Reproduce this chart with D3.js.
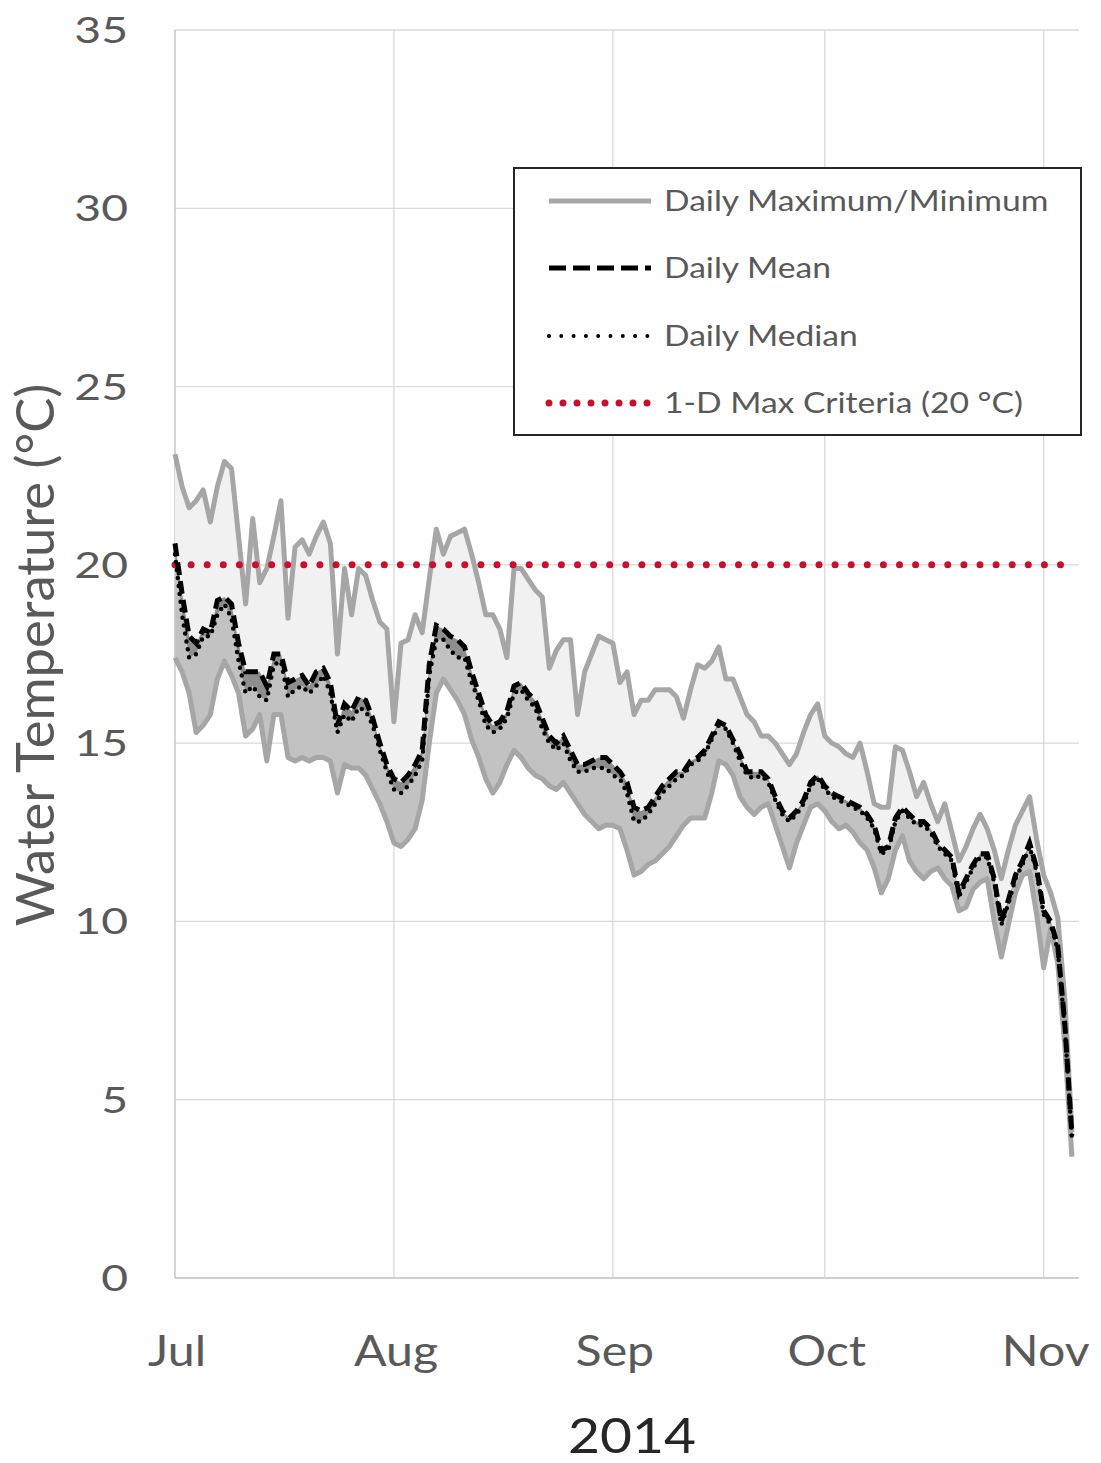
<!DOCTYPE html>
<html>
<head>
<meta charset="utf-8">
<script src="https://cdn.jsdelivr.net/npm/d3@7"></script>
<style>
  body { margin: 0; background: #fff; }
  svg { display: block; }
  text { font-family: Lato, "Open Sans", sans-serif; }
</style>
</head>
<body>
<svg id="chart"></svg>
<script>
// daily series, 1 Jul 2014 onwards (one value per day)
const startDate = new Date(2014, 6, 1);

const dailyMax = [
  23.1, 22.2, 21.6, 21.8, 22.1, 21.2, 22.2, 22.9, 22.7, 20.8,
  18.9, 21.3, 19.5, 19.9, 20.8, 21.8, 18.5, 20.5, 20.7, 20.3,
  20.8, 21.2, 20.6, 17.5, 19.9, 18.6, 19.9, 19.7, 19.0, 18.4,
  18.2, 15.6, 17.8, 17.9, 18.6, 18.1, 19.6, 21.0, 20.3, 20.8,
  20.9, 21.0, 20.3, 19.5, 18.6, 18.6, 18.2, 17.4, 19.9, 19.9,
  19.6, 19.3, 19.1, 17.1, 17.6, 17.9, 17.9, 15.8, 17.0, 17.5,
  18.0, 17.9, 17.8, 16.7, 17.0, 15.8, 16.2, 16.2, 16.5, 16.5,
  16.5, 16.3, 15.7, 16.5, 17.2, 17.1, 17.3, 17.7, 16.8, 16.8,
  16.3, 15.8, 15.6, 15.2, 15.2, 15.0, 14.7, 14.4, 14.7, 15.3,
  15.8, 16.1, 15.2, 15.0, 14.9, 14.7, 14.6, 15.0, 14.2, 13.3,
  13.2, 13.2, 14.9, 14.8, 14.2, 13.5, 13.9, 13.3, 12.8, 13.3,
  12.5, 11.7, 12.1, 12.6, 13.0, 12.6, 12.0, 11.2, 12.0, 12.7,
  13.1, 13.5, 12.3, 11.3, 10.8, 10.1, 7.8, 4.1
];

const dailyMin = [
  17.4, 17.0, 16.4, 15.3, 15.5, 15.8, 16.8, 17.3, 16.9, 16.4,
  15.2, 15.4, 15.8, 14.5, 15.8, 15.8, 14.6, 14.5, 14.6, 14.5,
  14.6, 14.6, 14.5, 13.6, 14.4, 14.3, 14.3, 14.1, 13.7, 13.3,
  12.8, 12.2, 12.1, 12.3, 12.6, 13.4, 15.0, 16.4, 16.8, 16.5,
  16.2, 15.8, 15.1, 14.6, 14.0, 13.6, 13.9, 14.4, 14.8, 14.6,
  14.3, 14.1, 14.0, 13.8, 13.7, 13.9, 13.6, 13.3, 13.0, 12.8,
  12.6, 12.7, 12.7, 12.6, 12.0, 11.3, 11.4, 11.6, 11.7, 11.9,
  12.1, 12.4, 12.7, 12.9, 12.9, 12.9, 13.6, 14.5, 14.4, 14.1,
  13.5, 13.2, 13.0, 13.2, 13.3, 12.7, 12.1, 11.5, 12.2, 12.7,
  13.2, 13.3, 13.1, 12.8, 12.6, 12.7, 12.5, 12.2, 12.0, 11.5,
  10.8, 11.2, 12.0, 12.4, 11.7, 11.4, 11.2, 11.4, 11.5, 11.2,
  11.0, 10.3, 10.4, 10.9, 11.1, 11.2, 10.0, 9.0, 9.9, 10.8,
  11.3, 11.4, 10.2, 8.7, 9.8, 8.8, 6.5, 3.4
];

const dailyMean = [
  20.6, 19.2, 18.0, 17.8, 18.2, 18.1, 19.0, 19.1, 18.9, 17.8,
  17.0, 17.0, 17.0, 16.6, 17.5, 17.5, 16.7, 16.8, 16.9, 16.6,
  17.0, 17.1, 16.7, 15.5, 16.1, 15.9, 16.3, 16.2, 15.7, 15.0,
  14.4, 14.0, 13.9, 14.1, 14.4, 14.8, 17.2, 18.3, 18.2, 18.0,
  17.9, 17.7, 17.0, 16.4, 15.8, 15.5, 15.6, 15.9, 16.6, 16.7,
  16.4, 16.2, 15.7, 15.2, 15.0, 15.2, 14.8, 14.4, 14.4, 14.5,
  14.6, 14.6, 14.4, 14.2, 13.9, 13.2, 13.1, 13.2, 13.5, 13.8,
  14.0, 14.2, 14.2, 14.5, 14.6, 14.8, 15.2, 15.6, 15.5, 15.1,
  14.7, 14.2, 14.2, 14.2, 14.0, 13.5, 13.1, 12.9, 13.1, 13.4,
  13.9, 14.1, 13.8, 13.6, 13.5, 13.4, 13.3, 13.2, 13.0, 12.7,
  12.0, 12.1, 12.9, 13.2, 13.0, 12.8, 12.8, 12.6, 12.2, 12.0,
  11.8, 10.8, 11.2, 11.6, 11.9, 11.9, 11.2, 10.0, 10.6, 11.3,
  11.7, 12.2, 11.5, 10.3, 10.0, 9.3, 7.1, 4.0
];

const dailyMedian = [
  20.3, 18.6, 17.4, 17.5, 18.0, 18.0, 18.6, 18.9, 18.5, 17.3,
  16.4, 16.6, 16.3, 16.2, 17.2, 17.3, 16.3, 16.5, 16.6, 16.4,
  16.6, 16.9, 16.4, 15.3, 15.8, 15.6, 16.0, 15.9, 15.5, 14.8,
  14.2, 13.7, 13.6, 13.8, 14.1, 14.5, 16.9, 17.9, 17.9, 17.6,
  17.4, 17.4, 16.7, 16.2, 15.5, 15.3, 15.4, 15.7, 16.4, 16.5,
  16.2, 16.0, 15.4, 15.0, 14.8, 15.0, 14.5, 14.2, 14.2, 14.3,
  14.3, 14.3, 14.1, 14.0, 13.6, 12.8, 12.8, 13.0, 13.3, 13.6,
  13.8, 14.0, 14.1, 14.4, 14.5, 14.7, 15.1, 15.5, 15.4, 15.0,
  14.5, 14.1, 14.0, 14.1, 13.9, 13.4, 13.0, 12.8, 13.0, 13.3,
  13.8, 14.0, 13.7, 13.5, 13.4, 13.3, 13.2, 13.1, 12.9, 12.6,
  11.9, 12.0, 12.8, 13.1, 12.9, 12.7, 12.7, 12.5, 12.1, 11.9,
  11.7, 10.7, 11.1, 11.5, 11.8, 11.8, 11.1, 9.9, 10.5, 11.2,
  11.6, 12.1, 11.4, 10.2, 9.9, 9.2, 7.0, 3.9
];

const criterion = 20;
const yTicks = [0, 5, 10, 15, 20, 25, 30, 35];
const monthTicks = ['2014-07-01', '2014-08-01', '2014-09-01', '2014-10-01', '2014-11-01'];
const legendLabels = ['Daily Maximum/Minimum', 'Daily Mean', 'Daily Median', '1-D Max Criteria (20 °C)'];

const width = 1101;
const height = 1463;
const plot = { left: 175, right: 1079, top: 30, bottom: 1278 };

const svg = d3.select('#chart')
  .attr('width', width)
  .attr('height', height);

const parse = d3.timeParse('%Y-%m-%d');

const rows = dailyMax.map((d, i) => ({
  date: d3.timeDay.offset(startDate, i),
  max: d,
  min: dailyMin[i],
  mean: dailyMean[i],
  median: dailyMedian[i],
}));

const x = d3.scaleTime()
  .domain([startDate, new Date(2014, 10, 6)])
  .range([plot.left, plot.right]);

const y = d3.scaleLinear()
  .domain([0, 35])
  .range([plot.bottom, plot.top]);

// gridlines
const grid = svg.append('g');
grid.selectAll('line.h')
  .data(yTicks)
  .join('line')
  .attr('class', 'h')
  .attr('x1', plot.left)
  .attr('x2', plot.right)
  .attr('y1', (d) => y(d))
  .attr('y2', (d) => y(d))
  .attr('stroke', (d) => (d === 0 ? '#bfbfbf' : '#d9d9d9'))
  .attr('stroke-width', 1.3);

grid.selectAll('line.v')
  .data(monthTicks.map(parse))
  .join('line')
  .attr('class', 'v')
  .attr('x1', (d) => x(d))
  .attr('x2', (d) => x(d))
  .attr('y1', plot.top)
  .attr('y2', plot.bottom)
  .attr('stroke', (d, i) => (i === 0 ? '#bfbfbf' : '#d9d9d9'))
  .attr('stroke-width', 1.3);

// bands
const band = (lo, hi) => d3.area()
  .x((d) => x(d.date))
  .y0((d) => y(d[lo]))
  .y1((d) => y(d[hi]));

svg.append('path').datum(rows).attr('d', band('mean', 'max')).attr('fill', '#f1f1f1');
svg.append('path').datum(rows).attr('d', band('min', 'median')).attr('fill', '#c2c2c2');
svg.append('path').datum(rows).attr('d', band('median', 'mean')).attr('fill', '#8e8e8e');

const lineOf = (key) => d3.line()
  .x((d) => x(d.date))
  .y((d) => y(d[key]));

// max / min
['max', 'min'].forEach((k) => {
  svg.append('path')
    .datum(rows)
    .attr('d', lineOf(k))
    .attr('fill', 'none')
    .attr('stroke', '#a6a6a6')
    .attr('stroke-width', 5)
    .attr('stroke-linejoin', 'round');
});

// criterion
svg.append('line')
  .attr('x1', x(startDate))
  .attr('x2', x(new Date(2014, 10, 5)))
  .attr('y1', y(criterion))
  .attr('y2', y(criterion))
  .attr('stroke', '#c8102e')
  .attr('stroke-width', 7)
  .attr('stroke-linecap', 'round')
  .attr('stroke-dasharray', '0 16.1');

// median
svg.append('path')
  .datum(rows)
  .attr('d', lineOf('median'))
  .attr('fill', 'none')
  .attr('stroke', '#000')
  .attr('stroke-width', 4.5)
  .attr('stroke-linecap', 'round')
  .attr('stroke-dasharray', '0 8');

// mean
svg.append('path')
  .datum(rows)
  .attr('d', lineOf('mean'))
  .attr('fill', 'none')
  .attr('stroke', '#000')
  .attr('stroke-width', 5)
  .attr('stroke-dasharray', '13 6');

// y axis labels
svg.append('g')
  .selectAll('text')
  .data(yTicks)
  .join('text')
  .attr('transform', (d) => `translate(128,${y(d) + 13}) scale(1.25,1)`)
  .attr('text-anchor', 'end')
  .attr('font-size', 37)
  .attr('fill', '#595959')
  .text((d) => d);

// x axis labels
svg.append('g')
  .selectAll('text')
  .data(monthTicks.map(parse))
  .join('text')
  .attr('transform', (d) => `translate(${x(d) + 2},1366) scale(1.15,1)`)
  .attr('text-anchor', 'middle')
  .attr('font-size', 42)
  .attr('fill', '#595959')
  .text(d3.timeFormat('%b'));

svg.append('text')
  .attr('transform', 'translate(632,1453) scale(1.15,1)')
  .attr('text-anchor', 'middle')
  .attr('font-size', 48)
  .attr('fill', '#262626')
  .text('2014');

svg.append('text')
  .attr('transform', 'translate(54,655) rotate(-90) scale(1.25,1.25)')
  .attr('text-anchor', 'middle')
  .attr('font-size', 42)
  .attr('fill', '#595959')
  .text('Water Temperature (°C)');

// legend
const legend = svg.append('g');
legend.append('rect')
  .attr('x', 514)
  .attr('y', 168)
  .attr('width', 567)
  .attr('height', 267)
  .attr('fill', '#fff')
  .attr('stroke', '#262626')
  .attr('stroke-width', 2);

const legendStyles = [
  { stroke: '#a6a6a6', width: 5, dash: null, cap: 'butt' },
  { stroke: '#000', width: 5, dash: '17 7', cap: 'butt' },
  { stroke: '#000', width: 4, dash: '0 12.3', cap: 'round' },
  { stroke: '#c8102e', width: 7, dash: '0 14', cap: 'round' },
];

const rowY = [201, 268, 336, 403];
legendLabels.forEach((label, i) => {
  const s = legendStyles[i];
  legend.append('line')
    .attr('x1', 549)
    .attr('x2', 651)
    .attr('y1', rowY[i])
    .attr('y2', rowY[i])
    .attr('stroke', s.stroke)
    .attr('stroke-width', s.width)
    .attr('stroke-linecap', s.cap)
    .attr('stroke-dasharray', s.dash);
  legend.append('text')
    .attr('transform', `translate(664,${rowY[i] + 10}) scale(1.16,1)`)
    .attr('font-size', 29)
    .attr('fill', '#595959')
    .text(label);
});
</script>
</body>
</html>
